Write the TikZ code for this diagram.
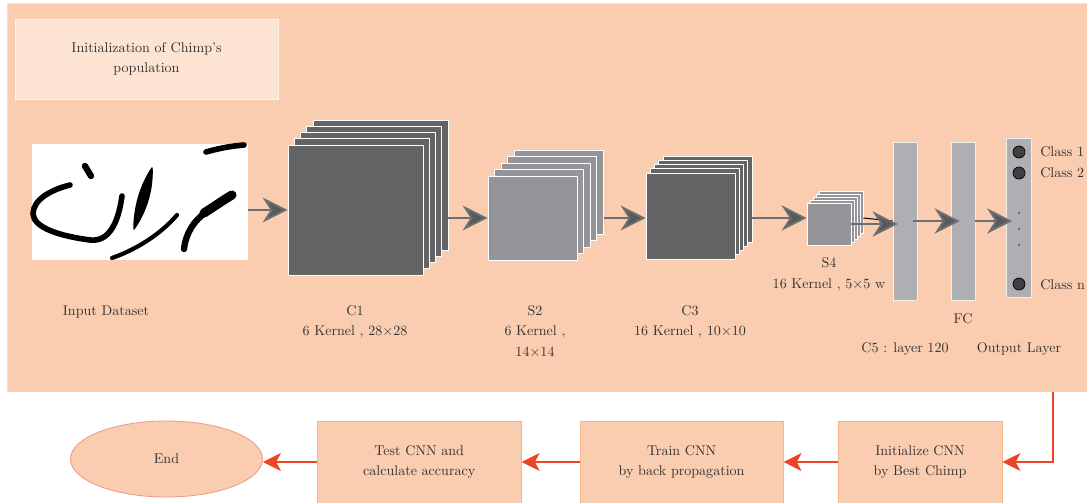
\documentclass[tikz,border=0pt]{standalone}
\usepackage{tikz}
\usetikzlibrary{positioning}
\usetikzlibrary{arrows.meta}
\usetikzlibrary{shapes.geometric}

\definecolor{panelpeach}{HTML}{FACDB0}
\definecolor{lightpeach}{HTML}{FDE3D2}
\definecolor{boxedge}{HTML}{F8B48C}
\definecolor{endedge}{HTML}{EE9A8E}
\definecolor{darkmap}{HTML}{636466}
\definecolor{lightmap}{HTML}{939598}
\definecolor{barfill}{HTML}{ADAFB2}
\definecolor{arrowgray}{HTML}{6D6E71}
\definecolor{headgray}{HTML}{58595B}
\definecolor{arrowred}{HTML}{EE4426}
\definecolor{textgray}{HTML}{333333}

\begin{document}
\begin{tikzpicture}[
                x=0.025cm, y=-0.025cm,
                lbl/.style = {
                    font=\fontsize{10}{14.5}\selectfont,
                    text=textgray,
                    inner sep=0pt,
                    align=center
                },
                c1map/.style = {draw=white, line width=0.5pt, fill=darkmap,
                    minimum width=33.75mm, minimum height=32.5mm, inner sep=0pt},
                s2map/.style = {draw=white, line width=0.5pt, fill=lightmap,
                    minimum width=22.25mm, minimum height=21mm, inner sep=0pt},
                c3map/.style = {draw=white, line width=0.5pt, fill=darkmap,
                    minimum width=22.25mm, minimum height=21.5mm, inner sep=0pt},
                s4map/.style = {draw=white, line width=0.4pt, fill=lightmap,
                    minimum width=11mm, minimum height=10.5mm, inner sep=0pt},
                bar/.style = {draw=white!80!barfill, line width=0.4pt, fill=barfill,
                    minimum width=#1, minimum height=39.5mm, inner sep=0pt},
                bar/.default = 6mm,
                unit/.style = {circle, draw=black, line width=0.5pt, fill=black!75,
                    minimum size=3mm, inner sep=0pt},
                stepbox/.style = {lbl, draw=boxedge, line width=0.6pt, fill=panelpeach,
                    minimum height=20.5mm},
                garrow/.style = {draw=arrowgray, line width=1.4pt,
                    -{Stealth[length=6.25mm, width=6.25mm, inset=2mm, fill=headgray]}},
                rarrow/.style = {draw=arrowred, line width=1pt,
                    -{Stealth[length=4.5mm, width=4.5mm, inset=1.2mm]}},
                ink/.style = {draw=black, line width=#1, line cap=round, line join=round}
            ]
            \useasboundingbox (0,0) rectangle (1087,502);
            \clip (0,0) rectangle (1087,502);
            % 
            \fill[panelpeach] (7,3) rectangle (1095,392);
            \draw[black!10, line width=0.6pt] (7,392) -- (7,3) -- (1095,3);
            \coordinate (exit) at (1053,392);
            % 
            \node[lbl, draw=white!60!lightpeach, line width=0.6pt, fill=lightpeach,
                minimum width=65.75mm, minimum height=20mm] (init) at (146.5,59)
                {Initialization of Chimp's\\population};
            % 
            \node[fill=white, minimum width=54mm, minimum height=29mm, inner sep=0pt] (input) at (140,202) {};
            \draw[ink=4pt] (206,152) .. controls (220,148) and (232,146) .. (244,145);
            \draw[ink=4.5pt] (85,166) -- (91,176);
            \draw[ink=4pt] (70,185) .. controls (50,190) and (33,200) .. (33,214)
                .. controls (34,228) and (60,236) .. (90,240)
                .. controls (108,242) and (118,225) .. (122,196);
            \filldraw[ink=1pt, fill=black] (152,168) .. controls (153,190) and (146,212) .. (134,229)
                .. controls (134,208) and (140,186) .. (152,168) -- cycle;
            \draw[ink=3pt] (112,258) .. controls (135,250) and (160,235) .. (177,215);
            \draw[ink=4.5pt] (184,249) .. controls (186,232) and (195,220) .. (205,213);
            \draw[ink=6.5pt] (204,213) .. controls (215,206) and (225,199) .. (232,195);
            % 
            \node[c1map] (c1a) at (380.5,185) {};
            \node[c1map] (c1b) at (374.25,191.25) {};
            \node[c1map] (c1c) at (368,197.5) {};
            \node[c1map] (c1d) at (361.75,203.75) {};
            \node[c1map] (c1e) at (355.5,210) {};
            % 
            \node[s2map] (s2a) at (558.9,192) {};
            \node[s2map] (s2b) at (552.3,198.5) {};
            \node[s2map] (s2c) at (545.7,205) {};
            \node[s2map] (s2d) at (539.1,211.5) {};
            \node[s2map] (s2e) at (532.5,218) {};
            % 
            \node[c3map] (c3a) at (707.5,199) {};
            \node[c3map] (c3b) at (703.25,203.25) {};
            \node[c3map] (c3c) at (699,207.5) {};
            \node[c3map] (c3d) at (694.75,211.75) {};
            \node[c3map] (c3e) at (690.5,216) {};
            % 
            \node[s4map] (s4a) at (841,212) {};
            \node[s4map] (s4b) at (838,215) {};
            \node[s4map] (s4c) at (835,218) {};
            \node[s4map] (s4d) at (832,221) {};
            \node[s4map] (s4e) at (829,224) {};
            % 
            \node[bar] (c5) at (905,221) {};
            \node[bar] (fc) at (963,221) {};
            \node[bar=6.25mm, minimum height=39.75mm] (out) at (1019,217.5) {};
            % 
            \node[unit] (u1) at (1019,152) {};
            \node[unit] (u2) at (1019,173) {};
            \node[unit] (un) at (1019,284) {};
            \fill[textgray] (1019,213) circle (0.7pt);
            \fill[textgray] (1019,229) circle (0.7pt);
            \fill[textgray] (1019,245) circle (0.7pt);
            % 
            \node[lbl, anchor=base west] (k1) at (1040,156) {Class 1};
            \node[lbl, anchor=base west] (k2) at (1040,177) {Class 2};
            \node[lbl, anchor=base west] (kn) at (1040,289) {Class n};
            % 
            \node[lbl, anchor=base] (inlbl) at (106,315) {Input Dataset};
            \node[lbl, anchor=base] (c1lbl) at (355,335.5) {C1\\6 Kernel , 28×28};
            \node[lbl, anchor=base] (s2lbl) at (535,356) {S2\\6 Kernel ,\\14×14};
            \node[lbl, anchor=base] (c3lbl) at (690,335.5) {C3\\16 Kernel , 10×10};
            \node[lbl, anchor=base] (s4lbl) at (829,288) {S4\\16 Kernel , 5×5 w};
            \node[lbl, anchor=base] (fclbl) at (963,323) {FC};
            \node[lbl, anchor=base] (c5lbl) at (905,352) {C5 : layer 120};
            \node[lbl, anchor=base] (outlbl) at (1019,352) {Output Layer};
            % 
            \draw[garrow] (input.east |- c1e.west) -- (c1e.west);
            \draw[garrow] (c1a.east |- s2e.west) -- (s2e.west);
            \draw[garrow] (s2a.east |- s2e.west) -- (c3e.west |- s2e.west);
            \draw[garrow] (c3a.east |- s2e.west) -- (s4e.west |- s2e.west);
            \draw[black, line width=0.7pt] ([yshift=-1.5mm]s4a.east) -- (c5.west);
            \draw[garrow] (s4e.east) -- ([xshift=1.25mm]c5.west |- s4e.east);
            \draw[garrow] ([xshift=-1mm]c5.east) -- ([xshift=2.25mm]fc.west);
            \draw[garrow] (fc.east) -- ([xshift=1.5mm]out.west |- fc.east);
            % 
            \node[stepbox, minimum width=41mm] (initcnn) at (920,462) {Initialize CNN\\by Best Chimp};
            \node[stepbox, minimum width=50.75mm, left=13.5mm of initcnn] (train) {Train CNN\\by back propagation};
            \node[stepbox, minimum width=51mm, left=14.5mm of train] (test) {Test CNN and\\calculate accuracy};
            \node[lbl, ellipse, draw=endedge, line width=0.6pt, fill=panelpeach,
                minimum width=48mm, minimum height=19mm] (finish) at (166.5,459) {End};
            % 
            \draw[rarrow] (exit) |- (initcnn.east);
            \draw[rarrow] (initcnn.west) -- (train.east);
            \draw[rarrow] (train.west) -- (test.east);
            \draw[rarrow] (test.west) -- (finish.east |- test.west);
            % 
        \end{tikzpicture}
\end{document}
